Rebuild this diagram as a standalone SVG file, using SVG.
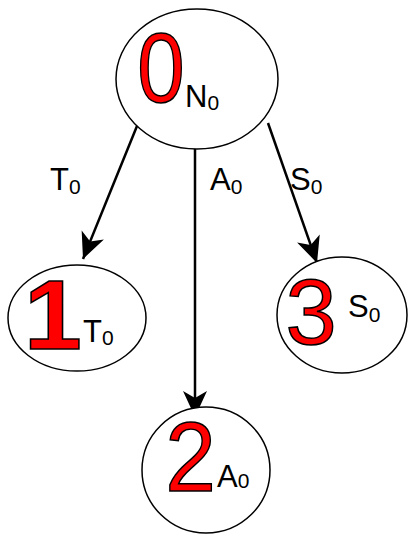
<svg xmlns="http://www.w3.org/2000/svg" width="409" height="535" viewBox="0 0 409 535">
<style>
.node{fill:#fff;stroke:#000;stroke-width:1.5}
.dig{font-family:"Liberation Sans",Arial,sans-serif;fill:#ff0000;stroke:#000;stroke-width:1.5;text-anchor:middle}
.lbl{font-family:"Liberation Sans",Arial,sans-serif;font-size:31px;fill:#000}
.sub{font-size:21px}
.edge{stroke:#000;stroke-width:2.5;fill:none;marker-end:url(#arr)}
</style>
<defs>
<marker id="arr" markerUnits="userSpaceOnUse" markerWidth="30" markerHeight="30" viewBox="-27 -13 30 26" refX="0" refY="0" orient="auto">
<path d="M0,0 L-26,-12 L-19,0 L-26,12 Z" fill="#000"/>
</marker>
</defs>
<g id="edges">
<path class="edge" d="M137,126 L83,259"/>
<path class="edge" d="M195,145 L195,417"/>
<path class="edge" d="M268,123 L317,263"/>
<text class="lbl" x="50" y="190">T<tspan class="sub" dy="4">0</tspan></text>
<text class="lbl" x="210" y="190">A<tspan class="sub" dy="4">0</tspan></text>
<text class="lbl" x="290" y="190">S<tspan class="sub" dy="4">0</tspan></text>
</g>
<g id="node0">
<ellipse class="node" cx="197" cy="79" rx="81" ry="70"/>
<text class="dig" font-size="98" transform="translate(161,102) scale(0.87,1)">0</text>
<text class="lbl" x="185" y="107">N<tspan class="sub" dy="3">0</tspan></text>
</g>
<g id="node1">
<ellipse class="node" cx="77" cy="318" rx="69" ry="53"/>
<text class="dig" font-size="99" font-weight="bold" transform="translate(53,349) scale(1.05,1)">1</text>
<text class="lbl" x="83" y="342">T<tspan class="sub" dy="3">0</tspan></text>
</g>
<g id="node2">
<ellipse class="node" cx="206" cy="470" rx="64" ry="63"/>
<text class="dig" font-size="98" transform="translate(190.5,491) scale(0.93,1)">2</text>
<text class="lbl" x="217" y="487">A<tspan class="sub" dy="1">0</tspan></text>
</g>
<g id="node3">
<ellipse class="node" cx="342" cy="315" rx="65" ry="58"/>
<text class="dig" font-size="92" transform="translate(311,344)">3</text>
<text class="lbl" x="348" y="317">S<tspan class="sub" dy="5">0</tspan></text>
</g>
</svg>
